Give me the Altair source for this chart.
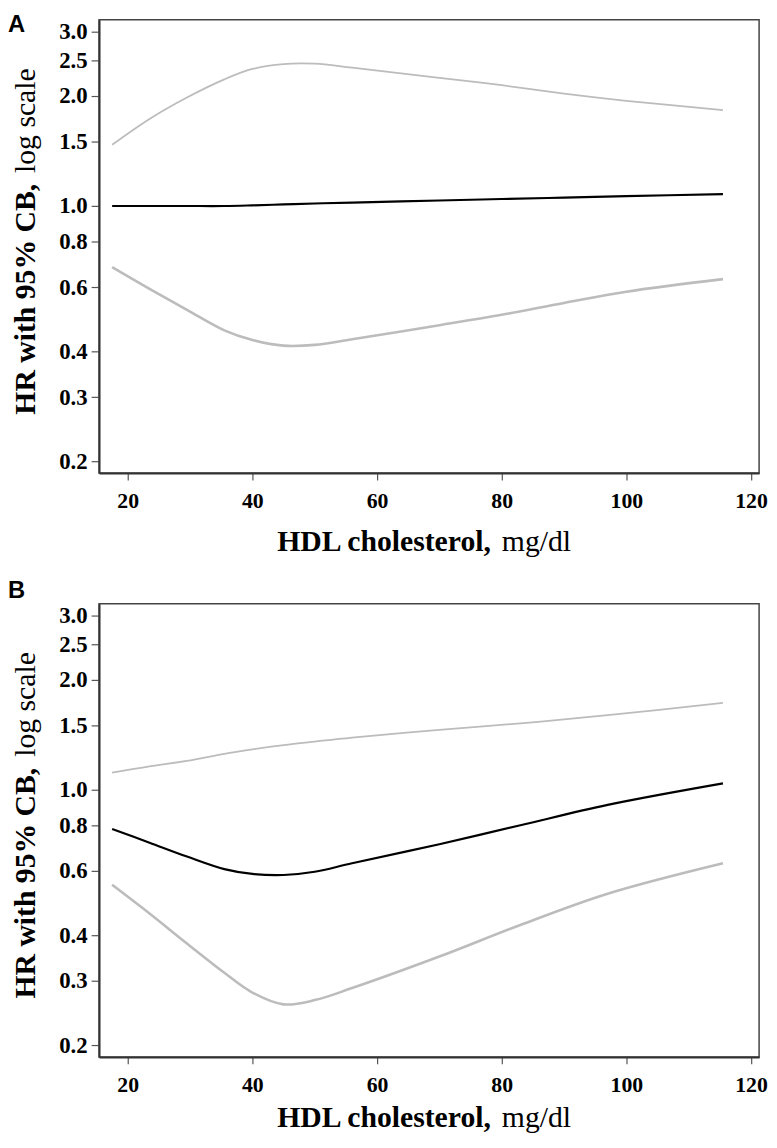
import altair as alt
import pandas as pd

# ---- data ----
x_a = [17.5, 23.5, 29.5, 35.5, 40, 45, 50, 56, 70, 80, 90, 100, 115.5]
upper_a = [1.47, 1.73, 1.98, 2.22, 2.37, 2.445, 2.45, 2.39, 2.24, 2.14, 2.03, 1.94, 1.83]
hr_a = [1.0, 1.0, 1.0, 1.0, 1.004, 1.01, 1.016, 1.022, 1.035, 1.045, 1.054, 1.064, 1.078]
lower_a = [0.68, 0.593, 0.52, 0.457, 0.43, 0.415, 0.417, 0.432, 0.472, 0.504, 0.543, 0.583, 0.631]

x_b = [17.5, 23.5, 29.5, 35.5, 40, 45, 50, 56, 70, 83, 97, 115.5]
upper_b = [1.114, 1.16, 1.20, 1.255, 1.29, 1.325, 1.355, 1.39, 1.46, 1.52, 1.60, 1.73]
hr_b = [0.782, 0.717, 0.657, 0.607, 0.589, 0.585, 0.597, 0.63, 0.71, 0.80, 0.91, 1.042]
lower_b = [0.55, 0.459, 0.38, 0.316, 0.279, 0.259, 0.266, 0.287, 0.35, 0.427, 0.52, 0.63]

y_ticks = [0.2, 0.3, 0.4, 0.6, 0.8, 1.0, 1.5, 2.0, 2.5, 3.0]
x_ticks = [20, 40, 60, 80, 100, 120]
series_names = ["upper", "hr", "lower"]
series_colors = ["#bcbcbc", "#000000", "#bcbcbc"]
series_widths = [1.8, 2.6, 1.8]

W, H = 667, 458
SERIF = "Liberation Serif"


def long_df(xs, up, hr, lo):
    rows = []
    for name, vals in zip(series_names, [up, hr, lo]):
        for xv, yv in zip(xs, vals):
            rows.append({"x": xv, "y": yv, "s": name})
    return pd.DataFrame(rows)


one = alt.Data(values=[{"k": 0}])


def label(txt, x, y, size, weight, font, align, angle=0):
    return alt.Chart(one).mark_text(
        text=txt, align=align, baseline="alphabetic", font=font,
        fontSize=size, fontWeight=weight, angle=angle, color="black"
    ).encode(x=alt.value(x), y=alt.value(y))


def panel(df, letter, letter_y, xtitle_y):
    lines = alt.Chart(df).mark_line(interpolate="catmull-rom").encode(
        x=alt.X("x:Q", title=None,
                scale=alt.Scale(domain=[15.4, 121.3], nice=False, zero=False),
                axis=alt.Axis(values=x_ticks, format="d", tickSize=7, labelPadding=11,
                              labelFontSize=22)),
        y=alt.Y("y:Q", title=None,
                scale=alt.Scale(type="log", domain=[0.186, 3.23], nice=False),
                axis=alt.Axis(values=y_ticks, format=".1f", tickSize=8, labelPadding=4,
                              labelFontSize=23)),
        color=alt.Color("s:N", scale=alt.Scale(domain=series_names, range=series_colors), legend=None),
        strokeWidth=alt.StrokeWidth("s:N", scale=alt.Scale(domain=series_names, range=series_widths), legend=None),
        detail="s:N",
    )
    return alt.layer(
        lines,
        label("HDL cholesterol,", 180, xtitle_y, 30, "bold", SERIF, "left"),
        label("mg/dl", 477, xtitle_y, 30, "normal", SERIF, "right"),
        label("HR with 95% CB,", -65, 399, 30, "bold", SERIF, "left", 270),
        label("log scale", -65, 49, 30, "normal", SERIF, "right", 270),
        label(letter, -92, letter_y, 24, "bold", "Liberation Sans", "left"),
    ).properties(width=W, height=H)


chart = alt.vconcat(
    panel(long_df(x_a, upper_a, hr_a, lower_a), "A", 12, 537),
    panel(long_df(x_b, upper_b, hr_b, lower_b), "B", -6, 529),
    spacing=132,
    bounds="flush",
).properties(
    padding={"left": -1, "top": -2, "right": 0, "bottom": 0},
).configure_view(
    stroke="#444444", strokeWidth=1.5
).configure_axis(
    grid=False,
    domainColor="#333333", domainWidth=2,
    tickColor="#555555", tickWidth=1.2,
    labelFont=SERIF, labelFontWeight="bold", labelColor="black",
)

chart.save("out.html", embed_options={"renderer": "svg", "actions": False})
